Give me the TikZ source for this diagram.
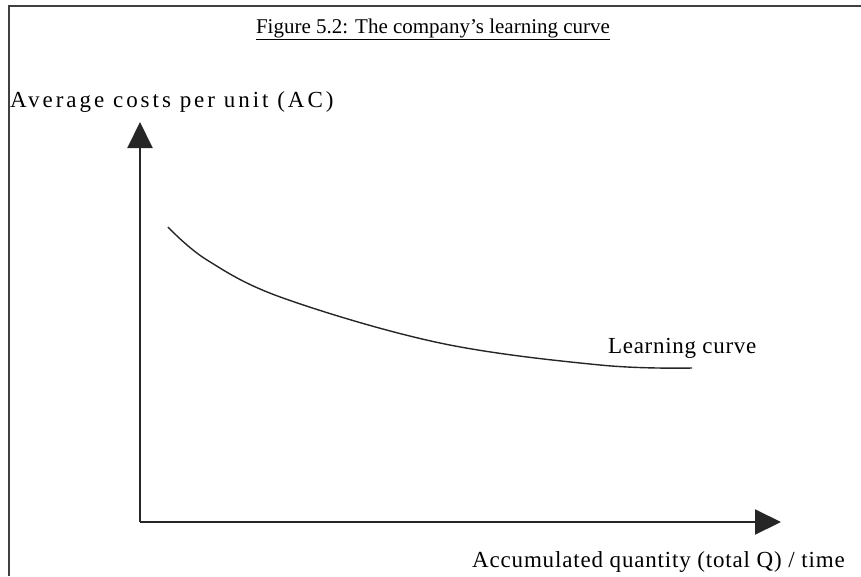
\documentclass[tikz,border=0pt]{standalone}
\usepackage{fontspec}
\setmainfont{Liberation Serif}
\usetikzlibrary{arrows.meta}

\begin{document}
\begin{tikzpicture}[x=1pt, y=-1pt, every node/.style={inner sep=0pt, font={\fontsize{23}{26}\selectfont}}, >={Triangle[length=26pt, width=25pt]},
    axis/.style={line width=2pt, draw=black!85},
    frame/.style={line width=1.6pt, draw=black!75},
    lcurve/.style={line width=1.4pt, draw=black!85}]
    \useasboundingbox (0,0) rectangle (861,576);
    \draw[frame] (9,576) -- (9,6) -- (861,6);

    \node[anchor=base] (title) at (433,33) {\fontsize{21}{24}\selectfont\underline{Figure 5.2: The company's learning curve}};
    \node[anchor=base west] (ylabel) at (10,107) {\addfontfeature{LetterSpace=13}Average costs per unit (AC)};
    \node[anchor=base west] (clabel) at (608,353) {\addfontfeature{LetterSpace=3}Learning curve};
    \node[anchor=base west] (xlabel) at (472,567) {\addfontfeature{LetterSpace=3.6}Accumulated quantity (total Q) / time};

    \coordinate (origin) at (140,522);
    \coordinate (ytip) at (140,122);
    \coordinate (xtip) at (781,522);
    \draw[axis, ->] (origin) -- (ytip);
    \draw[axis, ->] (origin) -- (xtip);

    \draw[lcurve] plot[smooth, tension=0.6] coordinates {(168,227) (207,260) (283,298) (440,343) (600,365) (692,368)};
\end{tikzpicture}
\end{document}
